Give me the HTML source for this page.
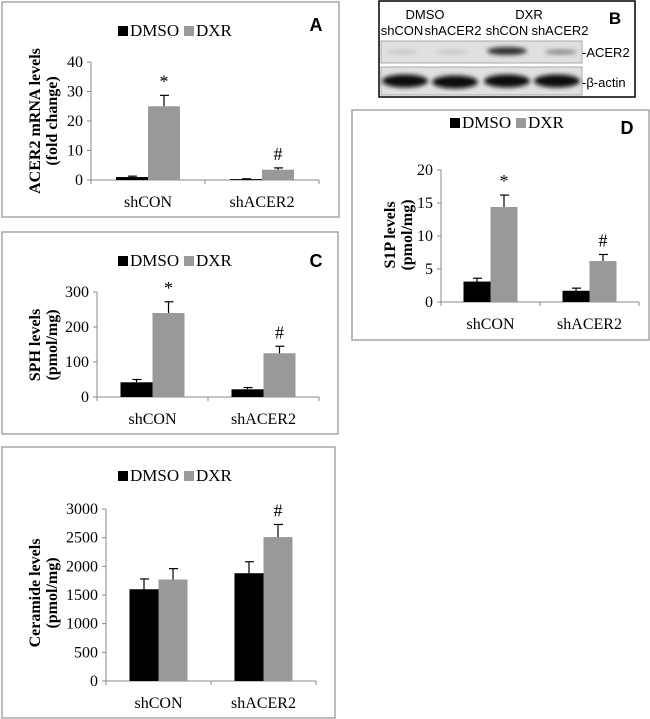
<!DOCTYPE html>
<html><head><meta charset="utf-8"><style>
body{margin:0;background:#fff}
svg{display:block}
text{font-family:"Liberation Serif",serif}
.sans{font-family:"Liberation Sans",sans-serif}
</style></head><body>
<svg id="fig" width="650" height="719" viewBox="0 0 650 719" xmlns="http://www.w3.org/2000/svg">
<defs><filter id="bl" x="-20%" y="-50%" width="140%" height="200%"><feGaussianBlur stdDeviation="2"/></filter></defs>
<g id="blot">
<rect x="379" y="1" width="256" height="96" fill="#fff" stroke="#000" stroke-width="1.5"/>
<text class="sans" x="425" y="19" font-size="13" text-anchor="middle">DMSO</text>
<text class="sans" x="529" y="19" font-size="13" text-anchor="middle">DXR</text>
<text class="sans" x="402" y="35" font-size="13" text-anchor="middle">shCON</text>
<text class="sans" x="453" y="35" font-size="13" text-anchor="middle">shACER2</text>
<text class="sans" x="507" y="35" font-size="13" text-anchor="middle">shCON</text>
<text class="sans" x="560" y="35" font-size="13" text-anchor="middle">shACER2</text>
<text class="sans" x="615" y="24" font-size="17" font-weight="bold" text-anchor="middle">B</text>
<rect x="381" y="41" width="201" height="22" fill="#e0e0e0" stroke="#aaa"/>
<g filter="url(#bl)">
<ellipse cx="402" cy="52" rx="16" ry="1.5" fill="#bbb"/>
<ellipse cx="452" cy="52" rx="16" ry="1.5" fill="#bbb"/>
<ellipse cx="507" cy="51" rx="20" ry="4" fill="#333"/>
<ellipse cx="561" cy="52" rx="16" ry="2.5" fill="#888"/>
</g>
<rect x="381" y="67" width="201" height="28" fill="#e0e0e0" stroke="#aaa"/>
<g filter="url(#bl)">
<ellipse cx="405" cy="81" rx="23" ry="6.5" fill="#111"/>
<ellipse cx="455" cy="82" rx="23" ry="6.5" fill="#111"/>
<ellipse cx="507" cy="81" rx="23" ry="6.5" fill="#111"/>
<ellipse cx="557" cy="81" rx="23" ry="6.5" fill="#111"/>
</g>
<text class="sans" x="582" y="57" font-size="13">-ACER2</text>
<text class="sans" x="582" y="87" font-size="13">-β-actin</text>
</g>
</svg>
<script>
// Panel A data
const catsA = ["shCON","shACER2"];
const dmsoA = [1, 0.3];
const dxrA = [25, 3.5];
const dmsoErrA = [0.3, 0.1];
const dxrErrA = [3.7, 0.6];
const ticksA = [0,10,20,30,40];
const marksA = ["*","#"];
// Panel C data
const catsC = ["shCON","shACER2"];
const dmsoC = [42, 22];
const dxrC = [240, 125];
const dmsoErrC = [8, 5];
const dxrErrC = [32, 20];
const ticksC = [0,100,200,300];
const marksC = ["*","#"];
// Panel D data
const catsD = ["shCON","shACER2"];
const dmsoD = [3.1, 1.7];
const dxrD = [14.4, 6.2];
const dmsoErrD = [0.5, 0.4];
const dxrErrD = [1.8, 1.0];
const ticksD = [0,5,10,15,20];
const marksD = ["*","#"];
// Ceramide panel data
const catsE = ["shCON","shACER2"];
const dmsoE = [1600, 1880];
const dxrE = [1770, 2510];
const dmsoErrE = [180, 200];
const dxrErrE = [190, 220];
const ticksE = [0,500,1000,1500,2000,2500,3000];
const marksE = ["","#"];

const NS="http://www.w3.org/2000/svg";
const svg=document.getElementById('fig');
function mk(tag,attrs,parent,txt){const e=document.createElementNS(NS,tag);for(const k in attrs)e.setAttribute(k,attrs[k]);if(txt!==undefined)e.textContent=txt;parent.appendChild(e);return e;}

function panel(p){
  const g=mk('g',{},svg);
  
  
  mk('rect',{x:p.box[0],y:p.box[1],width:p.box[2],height:p.box[3],fill:'#fff',stroke:'#999','stroke-width':1.3},g);
  const max=p.ticks[p.ticks.length-1];
  const y=v=>p.y0-(v/max)*(p.y0-p.yTop);
  const gw=(p.x1-p.x0)/p.cats.length;
  const ax=mk('line',{x1:p.x0,y1:p.yTop,x2:p.x0,y2:p.y0,stroke:'#888','stroke-width':1},g);
  
  
  const bx=mk('line',{x1:p.x0,y1:p.y0,x2:p.x1,y2:p.y0,stroke:'#888','stroke-width':1},g);
  
  
  for(let i=0;i<=p.cats.length;i++){mk('line',{x1:p.x0+i*gw,y1:p.y0,x2:p.x0+i*gw,y2:p.y0+4,stroke:'#888'},g);}
  p.ticks.forEach(t=>{
    mk('line',{x1:p.x0-4,y1:y(t),x2:p.x0,y2:y(t),stroke:'#888'},g);
    const tl=mk('text',{x:p.x0-8,y:y(t)+5,'font-size':16,'text-anchor':'end'},g,String(t));
    
    
  });
  p.cats.forEach((c,i)=>{
    const cx=p.x0+gw*(i+0.5);
    const series=[[p.dmso[i],p.dmsoErr[i],'#000',cx-p.bw],[p.dxr[i],p.dxrErr[i],'#999',cx]];
    series.forEach((s,j)=>{
      const r=mk('rect',{x:s[3],y:y(s[0]),width:p.bw,height:p.y0-y(s[0]),fill:s[2]},g);
      
      
      const ex=s[3]+p.bw/2, top=y(s[0]+s[1]);
      mk('line',{x1:ex,y1:y(s[0]),x2:ex,y2:top,stroke:'#000','stroke-width':1.2},g);
      mk('line',{x1:ex-4,y1:top,x2:ex+5,y2:top,stroke:'#000','stroke-width':1.2},g);
    });
    if(p.marks[i]){
      const m=mk('text',{x:cx+p.bw/2,y:y(p.dxr[i]+p.dxrErr[i])-8,'font-size':18,'text-anchor':'middle'},g,p.marks[i]);
      
      
    }
    const cl=mk('text',{x:cx,y:p.y0+27,'font-size':16,'text-anchor':'middle'},g,c);
    
    
  });
  const lg=mk('g',{},g);
  
  
  mk('rect',{x:p.leg[0],y:p.leg[1]-10,width:10,height:10,fill:'#000'},lg);
  mk('text',{x:p.leg[0]+12,y:p.leg[1],'font-size':17},lg,'DMSO');
  mk('rect',{x:p.leg[0]+66,y:p.leg[1]-10,width:10,height:10,fill:'#999'},lg);
  mk('text',{x:p.leg[0]+78,y:p.leg[1],'font-size':17},lg,'DXR');
  if(p.letter){
    const L=mk('text',{x:p.letterPos[0],y:p.letterPos[1],'font-size':18,'font-weight':'bold','text-anchor':'middle','class':'sans'},g,p.letter);
    
    
  }
  const yt=mk('text',{transform:`translate(${p.title[0]},${p.title[1]}) rotate(-90)`,'font-size':16,'font-weight':'bold','text-anchor':'middle'},g);
  
  
  mk('tspan',{x:0,y:0},yt,p.titleLines[0]);
  mk('tspan',{x:0,dy:17},yt,p.titleLines[1]);
}

panel({name:'panel-a-acer2-mrna',box:[2,2,337,215],x0:91,x1:319,y0:180,yTop:62,bw:32,
  cats:catsA,dmso:dmsoA,dxr:dxrA,dmsoErr:dmsoErrA,dxrErr:dxrErrA,ticks:ticksA,marks:marksA,
  leg:[118,36],letter:'A',letterPos:[316,31],title:[40,121],titleLines:['ACER2 mRNA levels','(fold change)']});
panel({name:'panel-c-sph',box:[2,232,336,202],x0:97,x1:319,y0:397,yTop:292,bw:32,
  cats:catsC,dmso:dmsoC,dxr:dxrC,dmsoErr:dmsoErrC,dxrErr:dxrErrC,ticks:ticksC,marks:marksC,
  leg:[118,266],letter:'C',letterPos:[316,267],title:[40,345],titleLines:['SPH levels','(pmol/mg)']});
panel({name:'panel-d-s1p',box:[352,110,297,230],x0:441,x1:639,y0:302,yTop:170,bw:27,
  cats:catsD,dmso:dmsoD,dxr:dxrD,dmsoErr:dmsoErrD,dxrErr:dxrErrD,ticks:ticksD,marks:marksD,
  leg:[450,128],letter:'D',letterPos:[627,134],title:[395,235],titleLines:['S1P levels','(pmol/mg)']});
panel({name:'panel-ceramide',box:[2,447,333,271],x0:106,x1:316,y0:681,yTop:509,bw:29,
  cats:catsE,dmso:dmsoE,dxr:dxrE,dmsoErr:dmsoErrE,dxrErr:dxrErrE,ticks:ticksE,marks:marksE,
  leg:[118,481],letter:'',letterPos:[0,0],title:[40,593],titleLines:['Ceramide  levels','(pmol/mg)']});
</script>
</body></html>
